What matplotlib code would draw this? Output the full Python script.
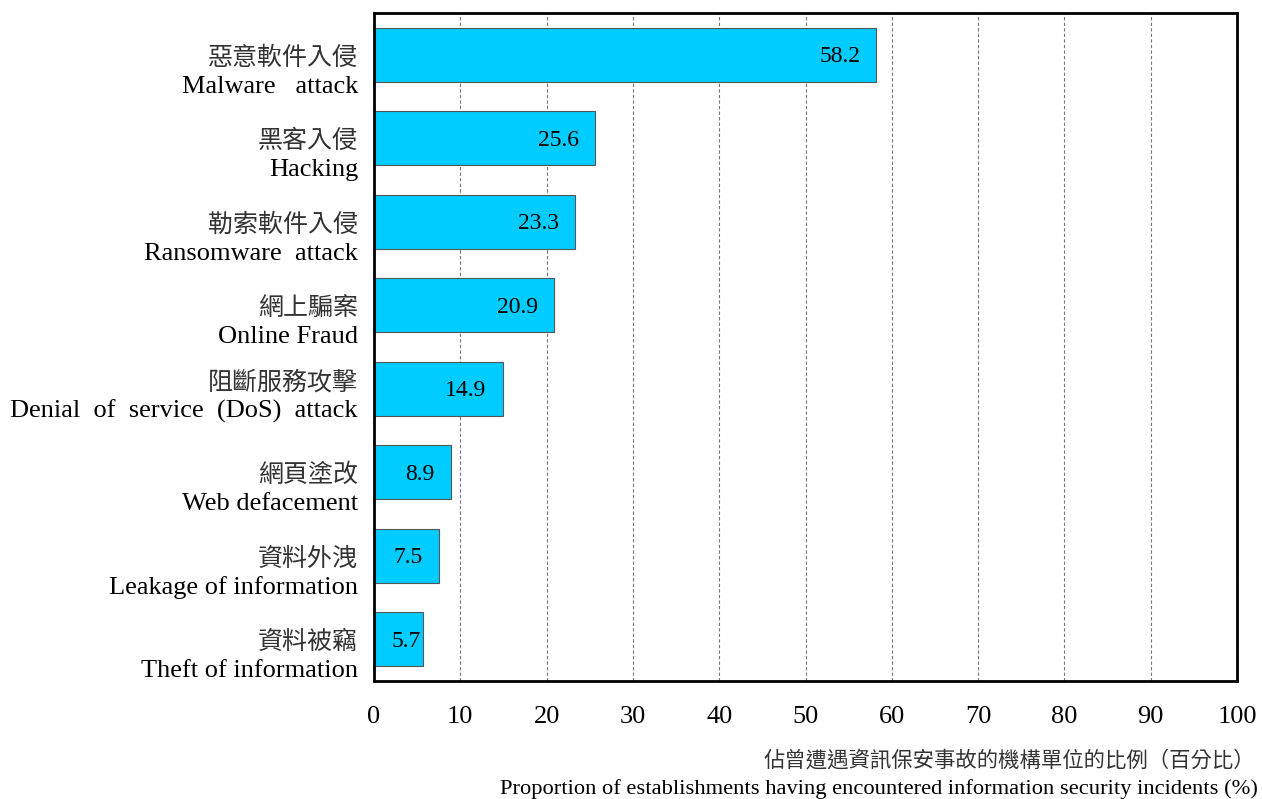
import matplotlib.pyplot as plt

plt.rcParams['font.family'] = ['Liberation Serif', 'Noto Sans CJK TC']

# categories, top to bottom
labels_zh = ["惡意軟件入侵", "黑客入侵", "勒索軟件入侵", "網上騙案",
             "阻斷服務攻擊", "網頁塗改", "資料外洩", "資料被竊"]
labels_en = ["Malware   attack", "Hacking", "Ransomware  attack", "Online Fraud",
             "Denial  of  service  (DoS)  attack", "Web defacement",
             "Leakage of information", "Theft of information"]
values = [58.2, 25.6, 23.3, 20.9, 14.9, 8.9, 7.5, 5.7]
xticks = [0, 10, 20, 30, 40, 50, 60, 70, 80, 90, 100]

fig = plt.figure(figsize=(12.62, 7.99), dpi=100)
ax = fig.add_axes([374 / 1262, 1 - 681 / 799, 863 / 1262, 668 / 799])

pos = list(range(len(values)))
ax.barh(pos, values, height=0.65, color="#00CCFF", edgecolor="#555555",
        linewidth=0.8, zorder=2)

# values inside bars, right aligned (pulled toward the end on short bars)
px_per_unit = 863 / 100
for y, v in zip(pos, values):
    off = min(16, v * px_per_unit - 31 - 16)
    ax.annotate(f"{v:.1f}", xy=(v, y), xytext=(-off, -2), textcoords="offset pixels",
                ha="right", va="center", fontsize=17, zorder=4)

# two-line category labels: Chinese on top, English below
for y, zh, en in zip(pos, labels_zh, labels_en):
    dy = 6 if y == 4 else -3
    ax.annotate(zh, xy=(0, y), xycoords=("axes fraction", "data"),
                xytext=(-16, dy), textcoords="offset pixels",
                ha="right", va="center", fontsize=18,
                family=["Noto Sans CJK TC", "Liberation Serif"], color="#333333")
    ax.annotate(en, xy=(0, y), xycoords=("axes fraction", "data"),
                xytext=(-16, dy - 29), textcoords="offset pixels",
                ha="right", va="center", fontsize=19)

ax.set_ylim(7.5, -0.5)
ax.set_yticks([])
ax.set_xlim(0, 100)
ax.set_xticks(xticks)
ax.set_xticklabels([str(t) for t in xticks], fontsize=19)
ax.tick_params(axis="x", length=0, pad=18)

ax.grid(axis="x", linestyle=(0, (3, 2)), color="#777777", linewidth=0.8)
ax.set_axisbelow(True)
for s in ax.spines.values():
    s.set_linewidth(2)
    s.set_color("black")
    s.set_zorder(3)

fig.text(1255 / 1262, 1 - 761 / 799, "佔曾遭遇資訊保安事故的機構單位的比例（百分比）",
         ha="right", va="center", fontsize=15.4,
         family=["Noto Sans CJK TC", "Liberation Serif"], color="#333333")
fig.text(1258 / 1262, 1 - 789 / 799,
         "Proportion of establishments having encountered information security incidents (%)",
         ha="right", va="center", fontsize=16.2)

fig.savefig("out.png", dpi=100)
